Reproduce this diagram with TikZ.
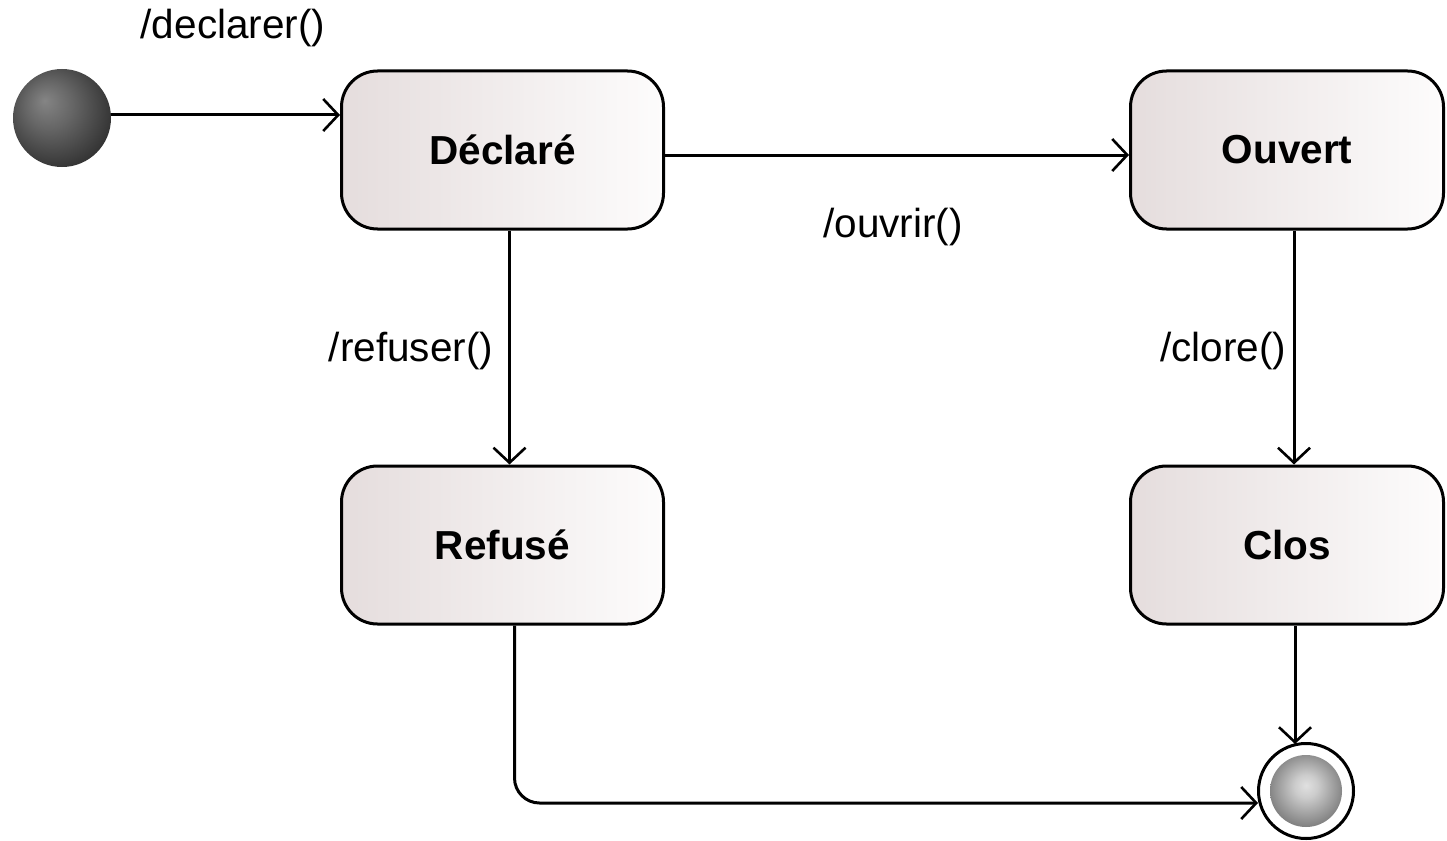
\documentclass[tikz,border=0pt]{standalone}
\usepackage{fontspec}
\setmainfont{Liberation Sans}
\usetikzlibrary{arrows.meta,calc}
\definecolor{stateleft}{RGB}{229,221,221}
\definecolor{stateright}{RGB}{253,252,252}
\pgfdeclareradialshading{initball}{\pgfpoint{-9bp}{9bp}}{%
  color(0bp)=(black!48); color(12bp)=(black!60); color(30bp)=(black!80); color(40bp)=(black!82); color(50bp)=(black!82)}
\pgfdeclareradialshading{finalball}{\pgfpoint{0bp}{4bp}}{%
  color(0bp)=(black!12); color(8bp)=(black!20); color(28bp)=(black!52); color(50bp)=(black!55)}
\begin{document}
\begin{tikzpicture}[x=1pt,y=-1pt,
  every node/.style={font=\fontsize{40.5}{48}\selectfont},
  state/.style={draw=black, line width=3pt, rounded corners=36pt,
    left color=stateleft, right color=stateright, shading angle=90,
    minimum height=158pt, inner sep=0pt, font=\fontsize{40.5}{48}\selectfont\bfseries},
  lbl/.style={inner sep=0pt},
  arr/.style={line width=3pt, -{Straight Barb[length=15pt,width=32pt,line width=2.6pt]}}]
\useasboundingbox (0,0) rectangle (1447,840);
% initial pseudo-state
\node[circle, minimum size=98pt, inner sep=0pt, shading=initball] (init) at (62,118) {};
% states
\node[state, minimum width=322pt] (decl) at (502.5,150) {Déclaré};
\node[state, minimum width=313pt] (ouv) at (1287,150) {Ouvert};
\node[state, minimum width=322pt] (ref) at (502.5,545) {Refusé};
\node[state, minimum width=313pt] (clos) at (1287,545) {Clos};
% final state
\node[circle, draw=black, line width=3pt, fill=white, minimum size=95pt, inner sep=0pt] (final) at (1306,791) {};
\node[circle, minimum size=72pt, inner sep=0pt, shading=finalball] (finalin) at (final.center) {};
\coordinate (fintop) at ($(final.center)+(-11,-47)$);
\coordinate (finleft) at ($(final.center)+(-48,12)$);
% labels
\node[lbl] (ldecl) at (233,28) {/declarer()};
\node[lbl] (louv) at (893,227) {/ouvrir()};
\node[lbl] (lref) at (411,351) {/refuser()};
\node[lbl] (lclo) at (1223,351) {/clore()};
% transitions
\draw[arr] ([yshift=3pt]init.east) -- ([yshift=3pt]init.east -| decl.west);
\draw[arr] ([yshift=-5pt]decl.east) -- ([yshift=-5pt]decl.east -| ouv.west);
\draw[arr] ([xshift=7pt]decl.south) -- ([xshift=7pt]ref.north);
\draw[arr] ([xshift=7pt]ouv.south) -- ([xshift=7pt]clos.north);
\draw[arr] (fintop |- clos.south) -- (fintop);
\draw[arr, rounded corners=25pt] ([xshift=12pt]ref.south) |- (finleft);
\end{tikzpicture}
\end{document}
